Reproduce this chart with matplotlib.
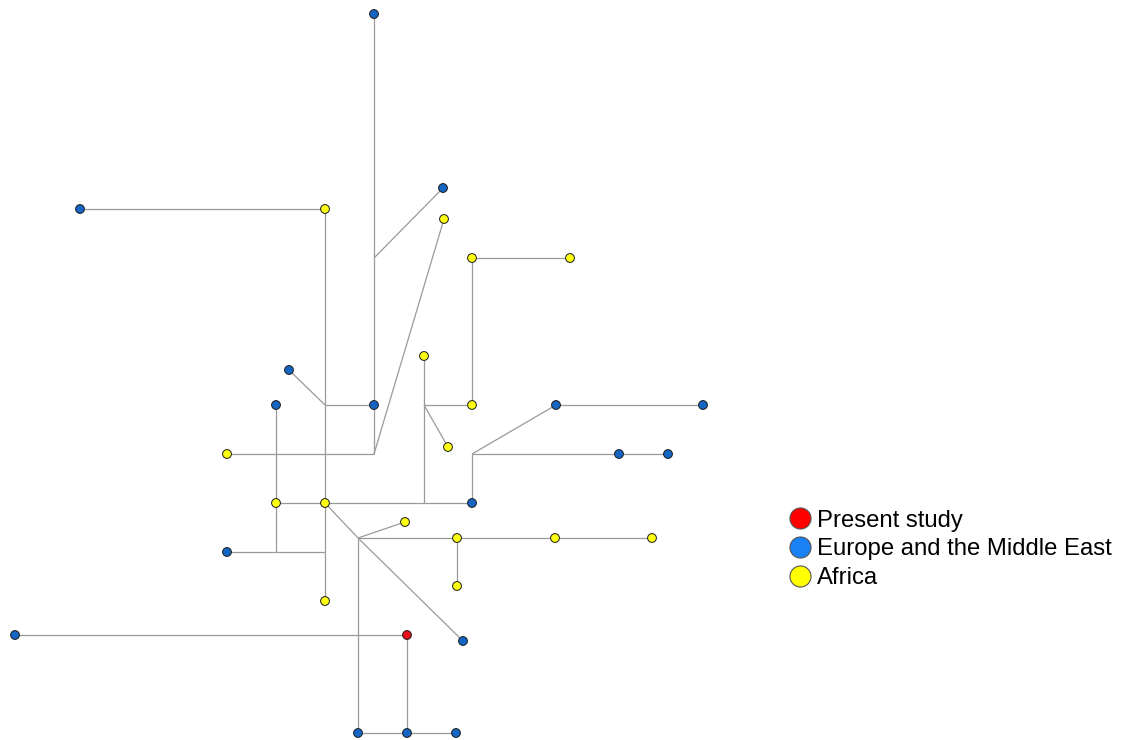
import matplotlib
matplotlib.use("Agg")
import matplotlib.pyplot as plt

# Haplotype nodes: name, layout position, and region of origin
hap_names = ["B1", "B2", "B3", "B4", "B5", "B6", "B7", "B8", "B9", "B10",
             "B11", "B12", "B13", "B14", "B15", "B16", "B17", "R1",
             "Y1", "Y2", "Y3", "Y4", "Y5", "Y6", "Y7", "Y8", "Y9", "Y10",
             "Y11", "Y12", "Y13", "Y14", "Y15", "Y16"]
hap_x = [374, 80, 443, 289, 276, 374, 556, 703, 619, 668,
         472, 227, 463, 15, 358, 407, 456, 407,
         325, 444, 472, 570, 424, 472, 448, 227, 276, 325,
         405, 457, 555, 652, 457, 325]
hap_y = [14, 209, 188, 370, 405, 405, 405, 405, 454, 454,
         503, 552, 641, 635, 733, 733, 733, 635,
         209, 219, 258, 258, 356, 405, 447, 454, 503, 503,
         522, 538, 538, 538, 586, 601]
hap_region = (["Europe and the Middle East"] * 17 + ["Present study"]
              + ["Africa"] * 16)

# Median vectors (inferred, unsampled nodes)
mv_names = ["M1", "M2", "M3", "M4", "M5", "M6", "M7", "M8", "M9"]
mv_x = [374, 325, 374, 424, 424, 472, 276, 325, 358]
mv_y = [258, 405, 454, 405, 503, 454, 552, 552, 538]

# Network links
edges = [
    ("B1", "M1"), ("M1", "B6"), ("B6", "M3"), ("M1", "B3"), ("M3", "Y2"),
    ("Y8", "M3"), ("B2", "Y1"), ("Y1", "M2"), ("M2", "Y10"), ("Y10", "M8"),
    ("M8", "Y16"), ("B4", "M2"), ("M2", "B6"), ("B5", "Y9"), ("Y9", "M7"),
    ("Y9", "Y10"), ("Y10", "M5"), ("M5", "B11"), ("M5", "M4"), ("M4", "Y5"),
    ("M4", "Y6"), ("M4", "Y7"), ("Y6", "Y3"), ("Y3", "Y4"), ("B11", "M6"),
    ("M6", "B7"), ("B7", "B8"), ("M6", "B9"), ("B9", "B10"), ("B12", "M7"),
    ("M7", "M8"), ("Y10", "M9"), ("M9", "B13"), ("M9", "Y11"), ("M9", "Y12"),
    ("Y12", "Y13"), ("Y13", "Y14"), ("Y12", "Y15"), ("M9", "B15"),
    ("B14", "R1"), ("R1", "B16"), ("B15", "B16"), ("B16", "B17"),
]

legend_labels = ["Present study", "Europe and the Middle East", "Africa"]
node_colors = {"Present study": "#e8101a",
               "Europe and the Middle East": "#1566c4",
               "Africa": "#ffff10"}
legend_colors = {"Present study": "#ff0000",
                 "Europe and the Middle East": "#1a80f5",
                 "Africa": "#ffff00"}

pos = {n: (x, y) for n, x, y in zip(hap_names, hap_x, hap_y)}
pos.update({n: (x, y) for n, x, y in zip(mv_names, mv_x, mv_y)})

fig = plt.figure(figsize=(11.22, 7.40), dpi=100)
ax = fig.add_axes([0, 0, 1, 1])
ax.set_xlim(0, 1122)
ax.set_ylim(740, 0)
ax.axis("off")

for a, b in edges:
    (x0, y0), (x1, y1) = pos[a], pos[b]
    ax.plot([x0, x1], [y0, y1], color="#9a9a9a", lw=0.9, zorder=1,
            solid_capstyle="butt")

ax.scatter(hap_x, hap_y, s=40,
           c=[node_colors[r] for r in hap_region],
           edgecolors="#1a1a1a", linewidths=0.7, zorder=3)

# Legend
leg_x, leg_y0, leg_step = 800, 518, 29
for i, lab in enumerate(legend_labels):
    yy = leg_y0 + i * leg_step
    ax.scatter([leg_x], [yy], s=230, c=legend_colors[lab],
               edgecolors="#555555", linewidths=0.8, zorder=3)
    ax.text(leg_x + 17, yy + 8.5, lab, fontsize=17.2,
            family="Liberation Sans", va="baseline", ha="left",
            color="black")

fig.savefig("out.png", dpi=100, facecolor="white")
